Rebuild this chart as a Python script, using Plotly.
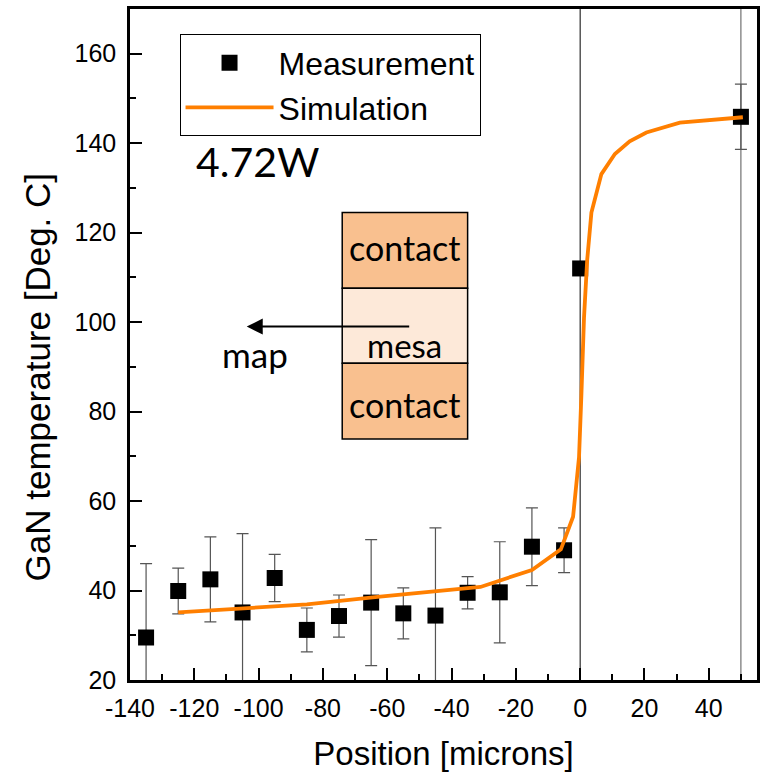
import plotly.graph_objects as go

# Measurement data
meas_x = [-135, -125, -115, -105, -95, -85, -75, -65, -55, -45, -35, -25, -15, -5, 0, 50]
meas_y = [29.5, 39.9, 42.5, 35.1, 42.8, 31.2, 34.3, 37.3, 34.9, 34.4, 39.5, 39.6, 49.8, 49.0, 112.0, 145.9]
meas_err = [16.5, 5.1, 9.5, 17.6, 5.3, 4.9, 4.7, 14.1, 5.7, 19.6, 3.6, 11.3, 8.7, 5.0, 1.0, 7.3]

# Simulation curve
sim_x = [-125, -85, -63, -31, -15, -6, -2.2, -0.35, 0.4, 1.2, 2.2, 3.5, 6.6, 10.8, 15.4, 20.6, 31, 50.6]
sim_y = [35.1, 36.9, 38.6, 40.8, 44.6, 49.2, 56.5, 69.8, 84.0, 101.0, 114.0, 124.5, 133.1, 137.6, 140.4, 142.4, 144.6, 145.8]

# Axis ticks
x_ticks = [-140, -120, -100, -80, -60, -40, -20, 0, 20, 40]
y_ticks = [20, 40, 60, 80, 100, 120, 140, 160]

# reference vertical lines
vlines_x = [0, 50]

FONT = "Liberation Sans, Arial, sans-serif"
CAL = "Lato, Carlito, Calibri, sans-serif"

fig = go.Figure()

for vx, col in zip(vlines_x, ["#000000", "#555555"]):
    fig.add_shape(type="line", xref="x", yref="paper", x0=vx, x1=vx, y0=0, y1=1,
                  line=dict(color=col, width=1), layer="below")

fig.add_trace(go.Scatter(
    x=meas_x, y=meas_y, mode="markers", name="Measurement",
    marker=dict(symbol="square", size=16, color="black"),
    error_y=dict(type="data", array=meas_err, visible=True, color="#555555", thickness=1.2, width=6),
))
fig.add_trace(go.Scatter(
    x=sim_x, y=sim_y, mode="lines", name="Simulation",
    line=dict(color="#FF7F00", width=3.8),
))

# inset diagram
box_x = [-74, -35]
box_y = [73.9, 90.8, 107.6, 124.5]
fills = ["#F9C08F", "#FDE9D9", "#F9C08F"]
for i, fc in enumerate(fills):
    fig.add_shape(type="rect", xref="x", yref="y", x0=box_x[0], x1=box_x[1],
                  y0=box_y[2 - i], y1=box_y[3 - i], fillcolor=fc,
                  line=dict(color="black", width=1.5), layer="above")

fig.add_annotation(x=-103.7, y=99.0, ax=-52.7, ay=99.0, xref="x", yref="y", axref="x", ayref="y",
                   text="", showarrow=True, arrowhead=2, arrowsize=1.6, arrowwidth=2, arrowcolor="black")
ann = [("map", -101.1, 92.8, 35), ("mesa", -54.5, 95.0, 33), ("contact", -54.5, 116.7, 34),
       ("contact", -54.5, 81.6, 34), ("4.72W", -100.2, 135.8, 41)]
for t, ax_, ay_, fs in ann:
    fig.add_annotation(x=ax_, y=ay_, xref="x", yref="y", text=t, showarrow=False,
                       font=dict(family=CAL, size=fs, color="black"))

# y-axis title (placed as annotation to match its off-centre position)
fig.add_annotation(x=-0.146, y=0.4516, xref="paper", yref="paper", text="GaN temperature [Deg. C]",
                   textangle=-90, showarrow=False, xanchor="center", yanchor="middle",
                   font=dict(family=FONT, size=35, color="black"))

axis_common = dict(
    showline=True, linecolor="black", linewidth=2.5, mirror=True,
    ticks="inside", ticklen=12, tickwidth=2, tickcolor="black",
    showgrid=False, zeroline=False,
    tickfont=dict(family=FONT, size=25, color="black"),
    minor=dict(ticks="inside", ticklen=6, tickwidth=2, tickcolor="black", dtick=10),
)

fig.update_layout(
    width=763, height=775,
    margin=dict(l=130, r=3, t=9, b=95),
    plot_bgcolor="white", paper_bgcolor="white",
    xaxis=dict(range=[-140, 55], tickvals=x_ticks, ticktext=[str(v) for v in x_ticks],
               ticklabelstandoff=4,
               title=dict(text="Position [microns]", font=dict(family=FONT, size=33, color="black"), standoff=22),
               **axis_common),
    yaxis=dict(range=[20, 170], tickvals=y_ticks, ticktext=[str(v) for v in y_ticks],
               ticklabelstandoff=6,
               **axis_common),
    showlegend=True,
    legend=dict(x=0.079, y=0.962, xanchor="left", yanchor="top",
                bordercolor="black", borderwidth=1, bgcolor="white",
                font=dict(family=FONT, size=32, color="black"),
                tracegroupgap=0, itemwidth=88),
)

fig.write_html("out.html")
